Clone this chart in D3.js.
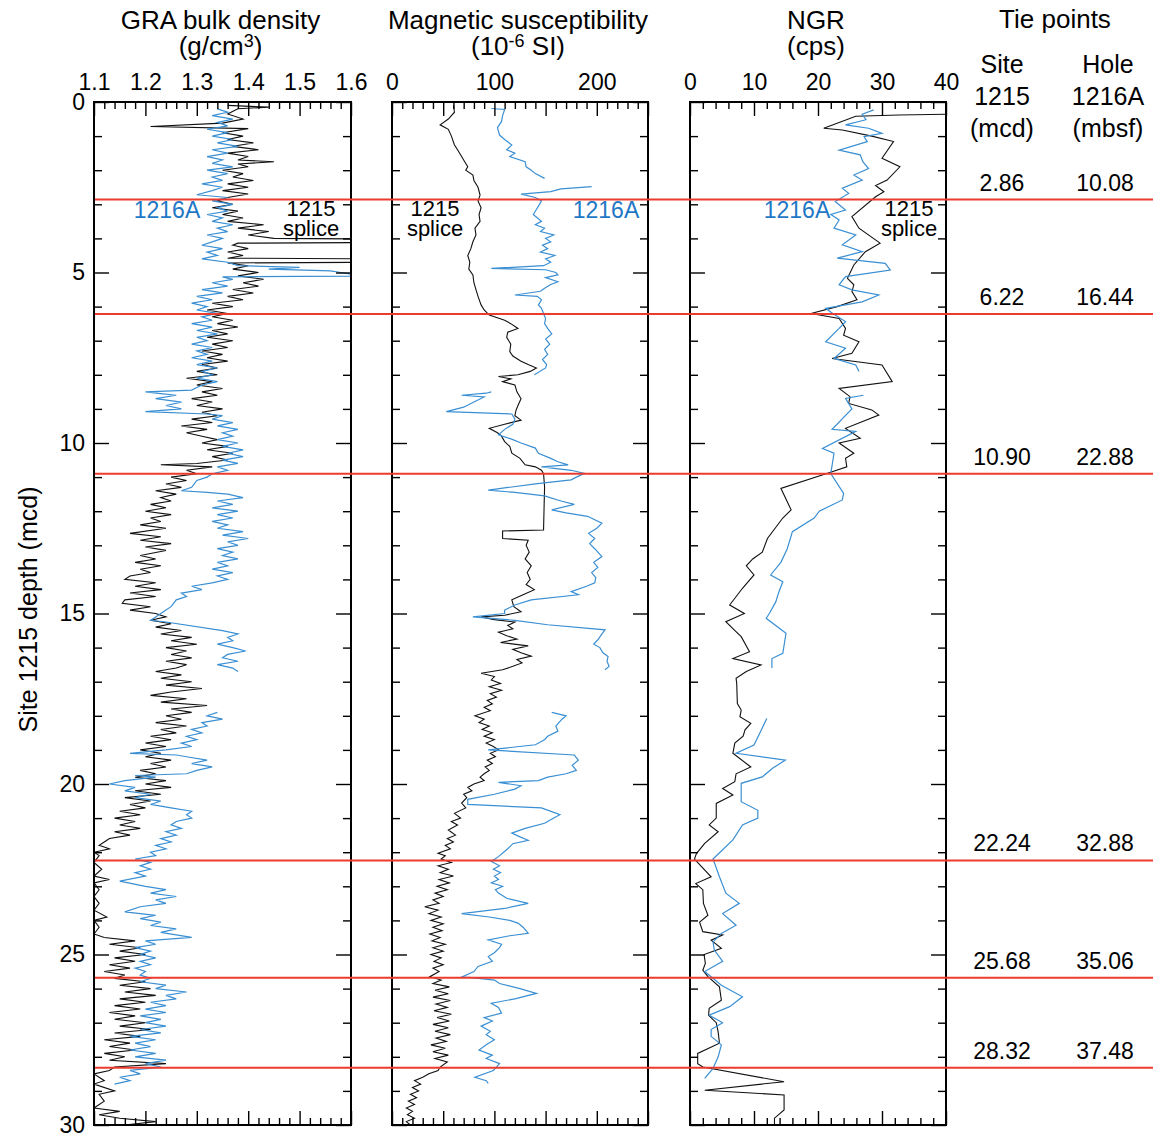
<!DOCTYPE html>
<html>
<head>
<meta charset="utf-8">
<script src="https://cdn.jsdelivr.net/npm/d3@7"></script>
<style>
    body { margin: 0; background: #fff; }
    svg { display: block; font-family: "Liberation Sans", Arial, Helvetica, sans-serif; }
    .tick line { stroke: #000; stroke-width: 1.4; }
</style>
</head>
<body>
<div id="chart"></div>
<script>
// ---- data: [depth (mcd), value], null = gap in the record ----
const graSplice = [[0.1,1.36],[0.15,1.44],[0.2,1.38],[0.35,1.36],[0.5,1.39],[0.62,1.35],[0.72,1.21],[0.78,1.40],[0.9,1.35],[1.0,1.39],[1.1,1.36],[1.2,1.41],[1.3,1.37],[1.4,1.42],[1.5,1.36],[1.6,1.40],[1.7,1.38],[1.75,1.45],[1.82,1.38],[1.9,1.40],[2.0,1.35],[2.1,1.39],[2.2,1.37],[2.3,1.41],[2.4,1.36],[2.5,1.40],[2.6,1.35],[2.7,1.40],[2.8,1.36],[2.9,1.34],[3.0,1.37],[3.1,1.33],[3.2,1.38],[3.3,1.35],[3.4,1.39],[3.5,1.36],[3.6,1.43],[3.7,1.38],[3.8,1.44],[3.9,1.40],[4.0,1.45],[4.02,1.65],[4.12,1.65],[4.14,1.38],[4.2,1.37],[4.3,1.40],[4.4,1.36],[4.5,1.39],[4.58,1.36],[4.6,1.65],[4.7,1.65],[4.72,1.36],[4.8,1.40],[4.9,1.37],[5.0,1.42],[5.1,1.38],[5.2,1.43],[5.3,1.39],[5.4,1.42],[5.5,1.37],[5.6,1.41],[5.7,1.36],[5.8,1.39],[5.9,1.33],[6.0,1.37],[6.1,1.32],[6.2,1.36],[6.3,1.33],[6.4,1.37],[6.5,1.34],[6.6,1.38],[6.7,1.33],[6.8,1.36],[6.9,1.32],[7.0,1.37],[7.1,1.33],[7.2,1.36],[7.3,1.31],[7.4,1.35],[7.5,1.32],[7.6,1.36],[7.7,1.31],[7.8,1.34],[7.9,1.30],[8.0,1.34],[8.1,1.28],[8.2,1.33],[8.3,1.30],[8.4,1.35],[8.5,1.31],[8.6,1.34],[8.7,1.29],[8.8,1.33],[8.9,1.30],[9.0,1.35],[9.1,1.31],[9.2,1.34],[9.3,1.29],[9.4,1.33],[9.5,1.27],[9.6,1.32],[9.7,1.28],[9.8,1.31],[9.9,1.34],[10.0,1.31],[10.1,1.36],[10.2,1.32],[10.3,1.37],[10.4,1.33],[10.5,1.36],[10.6,1.30],[10.64,1.23],[10.7,1.33],[10.8,1.28],[10.9,1.30],[11.0,1.25],[11.1,1.28],[11.2,1.24],[11.3,1.27],[11.4,1.22],[11.5,1.26],[11.6,1.23],[11.7,1.25],[11.8,1.21],[11.9,1.24],[12.0,1.20],[12.1,1.25],[12.2,1.21],[12.3,1.23],[12.4,1.19],[12.5,1.24],[12.65,1.17],[12.75,1.23],[12.85,1.19],[12.95,1.25],[13.05,1.20],[13.15,1.24],[13.3,1.19],[13.4,1.22],[13.5,1.18],[13.6,1.23],[13.7,1.19],[13.8,1.21],[13.9,1.17],[14.0,1.16],[14.1,1.22],[14.2,1.18],[14.3,1.23],[14.4,1.17],[14.5,1.22],[14.6,1.16],[14.7,1.155],[14.8,1.21],[14.9,1.17],[15.0,1.22],[15.1,1.24],[15.2,1.21],[15.3,1.25],[15.4,1.22],[15.5,1.27],[15.6,1.23],[15.7,1.29],[15.8,1.25],[15.9,1.30],[16.0,1.24],[16.1,1.28],[16.2,1.25],[16.3,1.29],[16.4,1.24],[16.5,1.28],[16.6,1.26],[16.7,1.22],[16.8,1.27],[16.9,1.23],[17.0,1.29],[17.1,1.24],[17.2,1.31],[17.3,1.25],[17.4,1.21],[17.5,1.28],[17.6,1.23],[17.7,1.32],[17.8,1.25],[17.9,1.29],[18.0,1.24],[18.1,1.27],[18.2,1.22],[18.3,1.28],[18.4,1.23],[18.5,1.26],[18.6,1.21],[18.7,1.25],[18.8,1.20],[18.9,1.24],[19.0,1.19],[19.1,1.23],[19.2,1.20],[19.3,1.25],[19.4,1.21],[19.5,1.24],[19.6,1.19],[19.7,1.22],[19.8,1.18],[19.9,1.24],[20.0,1.20],[20.1,1.25],[20.2,1.18],[20.3,1.23],[20.4,1.16],[20.5,1.21],[20.6,1.17],[20.7,1.20],[20.8,1.15],[20.9,1.19],[21.0,1.14],[21.1,1.18],[21.2,1.15],[21.3,1.19],[21.4,1.14],[21.5,1.17],[21.6,1.13],[21.7,1.12],[21.8,1.11],[21.9,1.13],[22.0,1.10],[22.1,1.11],[22.3,1.10],[22.5,1.115],[22.7,1.10],[22.8,1.13],[22.9,1.10],[23.1,1.11],[23.3,1.10],[23.5,1.11],[23.7,1.10],[23.9,1.125],[24.0,1.10],[24.2,1.11],[24.4,1.10],[24.5,1.12],[24.6,1.18],[24.7,1.13],[24.8,1.19],[24.9,1.15],[25.0,1.20],[25.1,1.14],[25.2,1.18],[25.3,1.13],[25.4,1.17],[25.5,1.12],[25.6,1.16],[25.7,1.14],[25.8,1.20],[25.9,1.15],[26.0,1.21],[26.1,1.16],[26.2,1.22],[26.3,1.15],[26.4,1.20],[26.5,1.14],[26.6,1.19],[26.7,1.13],[26.8,1.18],[26.9,1.14],[27.0,1.20],[27.1,1.15],[27.2,1.21],[27.3,1.14],[27.4,1.19],[27.5,1.12],[27.6,1.17],[27.7,1.13],[27.8,1.18],[27.9,1.12],[28.0,1.16],[28.1,1.13],[28.2,1.24],[28.3,1.14],[28.4,1.13],[28.5,1.10],[28.7,1.12],[28.8,1.10],[29.0,1.14],[29.1,1.11],[29.3,1.12],[29.5,1.10],[29.6,1.15],[29.7,1.11],[29.8,1.15],[29.9,1.22],[30.0,1.16]];

const graHole = [[0.2,1.34],[0.3,1.36],[0.4,1.33],[0.5,1.37],[0.6,1.34],[0.7,1.36],[0.8,1.32],[0.9,1.36],[1.0,1.33],[1.1,1.37],[1.2,1.34],[1.3,1.38],[1.4,1.33],[1.5,1.36],[1.6,1.32],[1.7,1.35],[1.8,1.33],[1.9,1.37],[2.0,1.32],[2.1,1.36],[2.2,1.33],[2.3,1.35],[2.4,1.31],[2.5,1.35],[2.6,1.33],[2.72,1.30],[2.8,1.36],[2.9,1.33],[3.0,1.37],[3.1,1.34],[3.2,1.36],[3.3,1.32],[3.4,1.35],[3.5,1.33],[3.6,1.37],[3.7,1.34],[3.8,1.36],[3.9,1.32],[4.0,1.35],[4.1,1.33],[4.2,1.31],[4.3,1.35],[4.4,1.32],[4.5,1.34],[4.6,1.31],[4.7,1.36],[4.8,1.38],[4.85,1.50],[4.9,1.44],[4.95,1.56],[5.0,1.58],[5.05,1.60],[5.1,1.65],[5.13,1.35],[5.2,1.37],[5.3,1.33],[5.4,1.36],[5.5,1.31],[5.6,1.35],[5.7,1.30],[5.8,1.33],[5.9,1.29],[6.0,1.32],[6.1,1.30],[6.2,1.34],[6.3,1.31],[6.4,1.33],[6.5,1.29],[6.6,1.33],[6.7,1.30],[6.8,1.34],[6.9,1.30],[7.0,1.32],[7.1,1.29],[7.2,1.33],[7.3,1.30],[7.4,1.32],[7.5,1.29],[7.6,1.33],[7.7,1.30],[7.8,1.34],[7.9,1.31],[8.0,1.33],[8.1,1.30],[8.2,1.34],[8.3,1.31],[8.45,1.29],[8.5,1.20],[8.55,1.23],[8.6,1.26],[8.7,1.22],[8.8,1.27],[8.9,1.24],[9.0,1.27],[9.08,1.20],[9.15,1.32],[9.2,1.35],[9.3,1.33],[9.4,1.37],[9.5,1.34],[9.6,1.38],[9.7,1.35],[9.8,1.37],[9.9,1.34],[10.0,1.38],[10.1,1.35],[10.2,1.39],[10.3,1.36],[10.4,1.39],[10.5,1.35],[10.6,1.38],[10.7,1.34],[10.8,1.36],[10.9,1.33],[11.0,1.32],[11.1,1.30],[11.3,1.29],[11.4,1.27],[11.45,1.32],[11.5,1.36],[11.6,1.39],[11.7,1.34],[11.8,1.37],[11.9,1.33],[12.0,1.38],[12.1,1.34],[12.2,1.37],[12.3,1.33],[12.4,1.36],[12.5,1.34],[12.6,1.39],[12.7,1.35],[12.8,1.40],[12.9,1.36],[13.0,1.38],[13.1,1.34],[13.2,1.37],[13.3,1.35],[13.4,1.38],[13.5,1.34],[13.6,1.36],[13.7,1.33],[13.8,1.37],[13.9,1.34],[14.0,1.36],[14.1,1.33],[14.2,1.29],[14.3,1.31],[14.4,1.27],[14.5,1.28],[14.6,1.26],[14.8,1.25],[14.9,1.24],[15.0,1.23],[15.1,1.22],[15.2,1.21],[15.25,1.24],[15.5,1.35],[15.6,1.38],[15.7,1.36],[15.8,1.37],[15.9,1.34],[16.0,1.37],[16.1,1.395],[16.2,1.36],[16.3,1.35],[16.4,1.38],[16.5,1.34],[16.6,1.37],[16.7,1.38],null,[17.9,1.34],[18.0,1.32],[18.1,1.35],[18.2,1.31],[18.3,1.32],[18.4,1.29],[18.5,1.31],[18.6,1.28],[18.7,1.30],[18.8,1.27],[18.9,1.29],[19.0,1.24],[19.1,1.17],[19.15,1.26],[19.2,1.28],[19.3,1.32],[19.4,1.29],[19.5,1.33],[19.6,1.30],[19.7,1.28],[19.75,1.18],[19.8,1.22],[19.9,1.16],[20.0,1.13],[20.1,1.18],[20.2,1.16],[20.3,1.21],[20.4,1.18],[20.5,1.23],[20.6,1.21],[20.7,1.25],[20.8,1.29],[20.9,1.28],[21.0,1.29],[21.1,1.26],[21.2,1.25],[21.3,1.27],[21.4,1.24],[21.5,1.26],[21.6,1.23],[21.7,1.25],[21.8,1.22],[21.9,1.24],[22.0,1.21],[22.1,1.22],[22.2,1.18],[22.3,1.21],[22.4,1.19],[22.5,1.21],[22.6,1.18],[22.7,1.20],[22.85,1.15],[23.0,1.20],[23.1,1.24],[23.2,1.21],[23.3,1.26],[23.4,1.22],[23.5,1.24],[23.6,1.19],[23.75,1.16],[23.85,1.22],[23.95,1.19],[24.05,1.23],[24.15,1.21],[24.25,1.26],[24.35,1.23],[24.5,1.29],[24.6,1.20],[24.7,1.22],[24.8,1.18],[24.9,1.21],[25.0,1.19],[25.1,1.22],[25.2,1.19],[25.3,1.21],[25.4,1.18],[25.5,1.20],[25.6,1.19],[25.7,1.21],[25.8,1.19],[25.9,1.24],[26.0,1.22],[26.1,1.28],[26.2,1.24],[26.3,1.26],[26.4,1.21],[26.5,1.24],[26.6,1.20],[26.7,1.24],[26.8,1.19],[26.9,1.23],[27.0,1.20],[27.1,1.24],[27.2,1.19],[27.3,1.23],[27.4,1.17],[27.5,1.22],[27.6,1.18],[27.7,1.21],[27.8,1.17],[27.9,1.22],[28.0,1.18],[28.1,1.24],[28.2,1.20],[28.3,1.23],[28.4,1.17],[28.5,1.19],[28.6,1.15],[28.7,1.17],[28.8,1.14]];

const msSplice = [[0.1,60],[0.3,61],[0.5,55],[0.67,47],[0.8,55],[1.0,58],[1.26,61],[1.4,64],[1.6,68],[1.75,71],[1.9,74],[2.0,72],[2.14,79],[2.3,80],[2.5,84],[2.73,86],[2.9,84],[3.1,87],[3.3,85],[3.5,86],[3.7,81],[3.9,82],[4.1,79],[4.3,77],[4.5,74],[4.7,76],[4.9,75],[5.07,79],[5.3,80],[5.5,82],[5.7,84],[5.95,87],[6.1,90],[6.25,95],[6.4,110],[6.5,116],[6.64,123],[6.75,113],[6.9,112],[7.1,116],[7.32,115],[7.45,118],[7.6,126],[7.7,133],[7.8,141],[7.9,135],[8.0,123],[8.05,104],[8.12,116],[8.2,108],[8.3,120],[8.5,122],[8.7,126],[8.9,123],[9.05,121],[9.2,120],[9.33,126],[9.45,110],[9.57,95],[9.7,103],[9.8,107],[9.96,110],[10.1,115],[10.3,117],[10.45,125],[10.64,130],[10.7,140],[10.8,146],[10.9,148],[11.28,149],[12.55,148],[12.58,108],[12.8,108],[12.85,133],[13.0,131],[13.2,134],[13.4,130],[13.6,136],[13.8,132],[14.0,135],[14.15,131],[14.3,139],[14.45,128],[14.6,117],[14.8,119],[14.95,126],[15.05,110],[15.1,87],[15.18,100],[15.25,120],[15.35,113],[15.45,118],[15.55,104],[15.65,112],[15.75,122],[15.85,106],[15.95,133],[16.05,118],[16.15,126],[16.25,136],[16.35,122],[16.45,127],[16.55,118],[16.65,108],[16.75,87],[16.85,100],[16.95,97],[17.05,106],[17.15,95],[17.25,107],[17.35,96],[17.45,102],[17.55,93],[17.65,98],[17.75,90],[17.85,96],[18.0,81],[18.1,90],[18.2,85],[18.3,95],[18.4,88],[18.5,98],[18.6,90],[18.7,100],[18.8,92],[18.9,99],[19.0,104],[19.1,96],[19.2,101],[19.3,93],[19.4,98],[19.5,91],[19.6,95],[19.7,90],[19.8,86],[19.9,90],[20.0,80],[20.1,74],[20.2,78],[20.3,70],[20.4,73],[20.56,68],[20.7,72],[20.86,61],[21.0,67],[21.1,58],[21.2,64],[21.35,55],[21.5,62],[21.6,54],[21.7,60],[21.8,52],[21.9,57],[22.03,45],[22.1,52],[22.2,48],[22.3,58],[22.4,45],[22.5,55],[22.6,47],[22.7,60],[22.8,46],[22.9,56],[23.0,44],[23.1,54],[23.2,42],[23.3,50],[23.4,40],[23.5,46],[23.6,32],[23.7,45],[23.8,36],[23.9,48],[24.0,38],[24.1,50],[24.2,40],[24.3,49],[24.4,37],[24.5,47],[24.6,39],[24.7,52],[24.8,40],[24.9,50],[25.0,38],[25.1,48],[25.2,41],[25.3,50],[25.4,40],[25.5,46],[25.65,37],[25.75,48],[25.85,40],[25.95,56],[26.05,42],[26.15,55],[26.25,40],[26.35,57],[26.45,43],[26.55,54],[26.65,41],[26.75,58],[26.85,44],[26.95,56],[27.05,40],[27.15,55],[27.25,42],[27.35,57],[27.45,43],[27.55,53],[27.65,38],[27.75,52],[27.85,40],[27.95,55],[28.05,42],[28.15,54],[28.3,47],[28.4,45],[28.5,36],[28.6,30],[28.7,22],[28.8,28],[28.9,20],[29.0,26],[29.1,18],[29.2,24],[29.3,16],[29.4,22],[29.5,14],[29.6,20],[29.7,15],[29.8,22],[29.9,14],[30.0,18]];

const msHole = [[0.19,97],[0.22,110],[0.4,108],[0.57,107],[0.75,103],[0.97,105],[1.1,110],[1.26,117],[1.4,112],[1.5,120],[1.6,115],[1.75,130],[1.9,131],[2.0,136],[2.1,140],[2.24,149],null,[2.48,195],[2.55,165],[2.63,155],[2.7,126],[2.8,140],[2.9,146],[3.1,142],[3.3,138],[3.5,146],[3.6,140],[3.7,149],[3.8,145],[3.9,158],[4.0,150],[4.1,155],[4.2,147],[4.3,152],[4.4,145],[4.5,159],[4.6,150],[4.7,155],[4.8,148],[4.88,97],[4.92,150],[5.0,160],[5.07,162],[5.15,150],[5.27,162],[5.35,155],[5.46,149],[5.55,145],[5.66,120],[5.7,142],[5.8,146],[5.95,143],[6.05,146],[6.2,148],[6.35,150],[6.5,149],[6.64,152],[6.8,156],[6.95,150],[7.1,154],[7.25,149],[7.4,152],[7.55,147],[7.7,151],[7.8,150],[8.0,139],null,[8.5,97],[8.54,92],[8.6,68],[8.65,90],[8.8,80],[8.95,70],[9.08,53],[9.15,117],[9.3,120],[9.45,118],[9.6,110],[9.76,104],[9.9,118],[10.0,126],[10.15,140],[10.3,143],[10.45,155],[10.55,162],[10.64,172],[10.7,146],[10.8,175],[10.89,188],[11.0,180],[11.08,175],[11.2,140],[11.38,94],[11.45,120],[11.55,149],[11.7,165],[11.8,178],[11.96,156],[12.05,170],[12.15,191],[12.35,205],[12.5,200],[12.65,192],[12.8,198],[12.95,193],[13.1,198],[13.33,205],[13.5,197],[13.65,201],[13.8,195],[13.95,199],[14.1,198],[14.2,190],[14.36,175],[14.45,182],[14.6,136],[14.75,120],[14.9,110],[15.0,110],[15.1,79],[15.2,120],[15.33,152],[15.48,208],[15.6,205],[15.77,201],[15.9,197],[16.0,203],[16.15,206],[16.26,211],[16.4,210],[16.55,212],[16.65,208],null,[17.9,156],[18.0,170],[18.1,166],[18.3,160],[18.45,162],[18.6,152],[18.7,149],[18.85,140],[19.0,94],[19.15,178],[19.3,182],[19.45,176],[19.6,180],[19.7,170],[19.8,152],[19.9,143],[19.95,104],[20.05,126],[20.15,120],[20.3,100],[20.45,74],[20.6,74],[20.7,146],[20.9,164],[21.0,158],[21.15,149],[21.3,130],[21.44,117],[21.55,125],[21.65,133],[21.75,118],[21.9,113],[22.13,104],[22.27,97],[22.4,105],[22.5,99],[22.6,106],[22.7,100],[22.8,104],[22.9,97],[23.0,108],[23.1,101],[23.2,104],[23.35,112],[23.5,133],[23.65,110],[23.8,68],[23.9,95],[24.0,115],[24.08,123],[24.2,128],[24.38,133],[24.45,115],[24.57,94],[24.7,107],[24.8,105],[24.95,100],[25.06,94],[25.2,98],[25.35,84],[25.5,80],[25.65,69],[25.75,100],[25.85,105],[26.0,125],[26.14,141],[26.3,120],[26.43,97],[26.55,104],[26.72,107],[26.85,90],[26.95,98],[27.1,87],[27.25,96],[27.35,92],[27.5,100],[27.65,92],[27.8,85],[27.95,98],[28.05,92],[28.2,105],[28.4,99],[28.6,81],[28.7,92],[28.78,94]];

const ngrSplice = [[0.36,40],[0.38,32.6],[0.42,25.9],[0.77,20.9],[0.82,23.8],[1.0,28.4],[1.16,31.8],[1.65,30],[1.9,32.8],[2.29,30.8],[2.45,29],[2.63,30.3],[2.78,29],[3.36,25.3],[3.7,26.4],[4.14,29.7],[4.39,27.4],[4.78,25.6],[5.17,24.6],[5.36,25.6],[5.56,25.3],[5.8,26.1],[6.0,23],[6.2,18.9],[6.35,23.3],[6.64,24.3],[6.84,24],[7.03,26.4],[7.37,25.3],[7.52,22.2],[7.71,30],[8.2,31.6],[8.4,23.3],[8.64,25],[8.84,24.8],[9.03,28.4],[9.18,29.5],[9.57,24.3],[9.86,26.6],[10.0,23.3],[10.3,25.6],[10.45,24.3],[10.7,24.5],[10.89,21.5],[11.33,14.2],[11.96,15.8],[12.2,14.5],[12.8,12.1],[13.2,11.3],[13.4,9.8],[13.6,8.8],[13.87,10],[14.26,8.2],[14.75,6.2],[15.0,8.5],[15.24,5.6],[15.48,6.9],[15.68,8],[16.12,9.3],[16.32,6.7],[16.51,11.1],[16.7,8.8],[16.9,7.2],[17.05,7.3],[17.64,7.4],[17.83,8],[18.03,7.8],[18.22,9.5],[18.41,8.6],[18.6,8.3],[18.8,7],[19.1,6.7],[19.5,9.5],[19.7,7.2],[19.93,7],[20.13,5.1],[20.32,6.7],[20.57,4.1],[21.0,4.1],[21.2,3],[21.4,4.4],[21.74,2.3],[22.04,1],[22.2,0.7],[22.72,3.3],[22.92,0.9],[23.1,2],[23.5,2.1],[23.85,2.8],[24.05,1.5],[24.33,2],[24.43,5.1],[24.58,3.3],[24.82,4.9],[25.0,2.2],[25.26,2.4],[25.46,2],[25.65,2.8],[25.95,4.6],[26.34,4.9],[26.58,3],[26.78,2.9],[27.0,4.1],[27.27,4.4],[27.6,4.6],[27.9,1.2],[28.2,1.2],[28.3,2],[28.73,14.7],[28.98,2.3],[29.12,14.7],[29.56,14.7],[29.8,13.2],[30.0,13.2]];

const ngrHole = [[0.23,28.7],[0.36,26.9],[0.52,27.5],[0.67,24.3],[0.77,27.9],[0.92,30],[1.02,27.2],[1.16,27.7],[1.41,23.3],[1.55,26.6],[1.75,27],[1.95,27.9],[2.14,25.6],[2.29,26.9],[2.53,23.8],[2.68,24.8],[2.92,22.7],[3.17,24.3],[3.3,22],[3.46,23.3],[3.7,22.5],[3.9,25.9],[4.19,23.8],[4.39,26.9],[4.58,23],[4.73,30.5],[4.93,31.3],[5.12,24.3],[5.36,23.3],[5.51,25.3],[5.66,29.5],[5.86,26.9],[6.05,21.2],[6.2,22.3],[6.44,24.3],[6.64,23.3],[7.03,21.2],[7.22,24.3],[7.52,22.5],[7.71,25.9],[7.9,26.4],null,[8.6,27.1],[8.69,24.3],[9.0,25.3],[9.6,22.2],[9.66,25.9],[10.16,20.7],[10.3,22.5],[10.9,22],[11.48,24],[11.67,23.8],[12.0,20.2],[12.2,19.4],[12.6,16],[13.1,15.2],[13.5,14.2],[13.87,12.6],[14.07,14.5],[14.36,13.9],[14.66,13.4],[15.0,12.4],[15.14,11.9],[15.58,15],[16.17,14.5],[16.32,12.8],[16.6,12.8],null,[18.08,12],[18.86,10],[19.1,7.2],[19.3,14.9],[19.54,12.9],[19.79,11.3],[19.98,8],[20.52,8],[20.77,10.6],[21.0,10.6],[21.2,8.2],[21.64,6.7],[22.2,3.6],[22.72,4.6],[23.2,5.6],[23.5,7.7],[23.8,5.1],[24.14,7.2],[24.38,4.9],[24.63,3.6],[24.87,3.8],[25.2,5.1],[25.5,2.3],[25.9,4.9],[26.24,8.2],[26.53,6.2],[26.78,3],[27.0,5.1],[27.2,3.3],[27.4,3.3],[27.65,4.9],[28.0,4.4],[28.34,3.6],[28.63,2.3]];

// tie points
const tieSite = [2.86, 6.22, 10.90, 22.24, 25.68, 28.32];
const tieHole = ["10.08", "16.44", "22.88", "32.88", "35.06", "37.48"];

// tick labels
const graTicks = [1.1, 1.2, 1.3, 1.4, 1.5, 1.6];
const msTicks = [0, 100, 200];
const ngrTicks = [0, 10, 20, 30, 40];
const depthTicks = [0, 5, 10, 15, 20, 25, 30];

// ---- layout ----
const W = 1153, H = 1135;
const yTop = 102, yBottom = 1125;
const blue = '#3a8fd3', blueText = '#1f78c5', red = '#ec3b2c';
const font = '"Liberation Sans", Arial, Helvetica, sans-serif';

const svg = d3.select('#chart').append('svg')
    .attr('width', W)
    .attr('height', H);

const y = d3.scaleLinear().domain([0, 30]).range([yTop, yBottom]);

const panels = [
    { id: 'gra', x0: 94, x1: 351, domain: [1.1, 1.6], step: 0.02, majorEvery: 5, labels: graTicks,
      fmt: d3.format('.1f'), splice: graSplice, hole: graHole,
      title: ['GRA bulk density', '(g/cm', '3', ')'],
      holeLabel: 167, spliceLabel: 311 },
    { id: 'ms', x0: 392, x1: 648, domain: [0, 250], step: 10, majorEvery: 5, labels: msTicks,
      fmt: d3.format('d'), splice: msSplice, hole: msHole,
      title: ['Magnetic susceptibility', '(10', '-6', ' SI)'],
      holeLabel: 606, spliceLabel: 435 },
    { id: 'ngr', x0: 690, x1: 946, domain: [0, 40], step: 2, majorEvery: 5, labels: ngrTicks,
      fmt: d3.format('d'), splice: ngrSplice, hole: ngrHole,
      title: ['NGR', '(cps', '', ')'],
      holeLabel: 797, spliceLabel: 909 }
];

const line = (x) => d3.line()
    .defined(d => d !== null)
    .x(d => x(d ? d[1] : 0))
    .y(d => y(d ? d[0] : 0));

panels.forEach(p => {
    const x = d3.scaleLinear().domain(p.domain).range([p.x0, p.x1]);
    const n = Math.round((p.domain[1] - p.domain[0]) / p.step);
    const all = d3.range(n + 1).map(i => p.domain[0] + i * p.step);
    const majors = all.filter((d, i) => i % p.majorEvery === 0);
    const minors = all.filter((d, i) => i % p.majorEvery !== 0);

    const g = svg.append('g').attr('class', p.id);

    // clip for data
    svg.append('clipPath').attr('id', 'clip-' + p.id)
        .append('rect')
        .attr('x', p.x0).attr('y', yTop)
        .attr('width', p.x1 - p.x0).attr('height', yBottom - yTop);

    const data = g.append('g').attr('clip-path', `url(#clip-${p.id})`);
    data.append('path')
        .datum(p.splice)
        .attr('d', line(x))
        .attr('fill', 'none')
        .attr('stroke', '#111')
        .attr('stroke-width', 1.1);
    data.append('path')
        .datum(p.hole)
        .attr('d', line(x))
        .attr('fill', 'none')
        .attr('stroke', blue)
        .attr('stroke-width', 1.2);

    // x ticks, top and bottom, pointing inward
    [[d3.axisTop, yTop], [d3.axisBottom, yBottom]].forEach(([axisFn, yPos]) => {
        g.append('g')
            .attr('transform', `translate(0,${yPos})`)
            .call(axisFn(x).tickValues(majors).tickSize(-14).tickFormat(''))
            .call(a => a.select('.domain').remove());
        g.append('g')
            .attr('transform', `translate(0,${yPos})`)
            .call(axisFn(x).tickValues(minors).tickSize(-7).tickFormat(''))
            .call(a => a.select('.domain').remove());
    });

    // tick labels on top
    g.append('g')
        .attr('transform', `translate(0,${yTop})`)
        .call(d3.axisTop(x).tickValues(p.labels).tickSize(0).tickPadding(12).tickFormat(p.fmt))
        .call(a => a.select('.domain').remove())
        .call(a => a.selectAll('text')
            .attr('font-family', font)
            .attr('font-size', 23)
            .attr('fill', '#000'));

    // depth ticks, both sides, inward
    const depthAll = d3.range(0, 31);
    const dMajor = depthAll.filter(d => d % 5 === 0);
    const dMinor = depthAll.filter(d => d % 5 !== 0);
    [[d3.axisLeft, p.x0], [d3.axisRight, p.x1]].forEach(([axisFn, xPos]) => {
        g.append('g')
            .attr('transform', `translate(${xPos},0)`)
            .call(axisFn(y).tickValues(dMajor).tickSize(-15).tickFormat(''))
            .call(a => a.select('.domain').remove());
        g.append('g')
            .attr('transform', `translate(${xPos},0)`)
            .call(axisFn(y).tickValues(dMinor).tickSize(-8).tickFormat(''))
            .call(a => a.select('.domain').remove());
    });

    // frame
    g.append('rect')
        .attr('x', p.x0).attr('y', yTop)
        .attr('width', p.x1 - p.x0).attr('height', yBottom - yTop)
        .attr('fill', 'none')
        .attr('stroke', '#000')
        .attr('stroke-width', 2);

    // titles
    const cx = (p.x0 + p.x1) / 2 - 2;
    g.append('text')
        .attr('x', cx).attr('y', 29)
        .attr('text-anchor', 'middle')
        .attr('font-family', font).attr('font-size', 26)
        .text(p.title[0]);
    const sub = g.append('text')
        .attr('x', cx).attr('y', 55)
        .attr('text-anchor', 'middle')
        .attr('font-family', font).attr('font-size', 26);
    sub.append('tspan').text(p.title[1]);
    if (p.title[2]) {
        sub.append('tspan').attr('font-size', 18).attr('dy', -8).text(p.title[2]);
        sub.append('tspan').attr('dy', 8).text(p.title[3]);
    } else {
        sub.append('tspan').text(p.title[3]);
    }

    // series labels
    g.append('text')
        .attr('x', p.holeLabel).attr('y', 218)
        .attr('text-anchor', 'middle')
        .attr('font-family', font).attr('font-size', 23)
        .attr('fill', blueText)
        .text('1216A');
    ['1215', 'splice'].forEach((t, i) => {
        g.append('text')
            .attr('x', p.spliceLabel).attr('y', 216 + i * 20)
            .attr('text-anchor', 'middle')
            .attr('font-family', font).attr('font-size', 22)
            .attr('fill', '#000')
            .text(t);
    });
});

// depth axis labels
svg.append('g')
    .attr('transform', `translate(${panels[0].x0},0)`)
    .call(d3.axisLeft(y).tickValues(depthTicks).tickSize(0).tickPadding(9))
    .call(a => a.select('.domain').remove())
    .call(a => a.selectAll('text')
        .attr('font-family', font)
        .attr('font-size', 23)
        .attr('fill', '#000'));

svg.append('text')
    .attr('transform', `translate(37,${(yTop + yBottom) / 2 - 4}) rotate(-90)`)
    .attr('text-anchor', 'middle')
    .attr('font-family', font).attr('font-size', 25)
    .text('Site 1215 depth (mcd)');

// tie point lines
svg.append('g').selectAll('line')
    .data(tieSite)
    .enter().append('line')
    .attr('x1', panels[0].x0 + 1).attr('x2', W)
    .attr('y1', d => y(d)).attr('y2', d => y(d))
    .attr('stroke', red)
    .attr('stroke-width', 2);

// tie point column
const colSite = 1002, colHole = 1108;
svg.append('text')
    .attr('x', 1055).attr('y', 28)
    .attr('text-anchor', 'middle')
    .attr('font-family', font).attr('font-size', 26)
    .text('Tie points');
[['Site', '1215', '(mcd)', colSite], ['Hole', '1216A', '(mbsf)', colHole]].forEach(h => {
    h.slice(0, 3).forEach((t, i) => {
        svg.append('text')
            .attr('x', h[3]).attr('y', 73 + i * 32)
            .attr('text-anchor', 'middle')
            .attr('font-family', font).attr('font-size', 25)
            .text(t);
    });
});

const tieText = svg.append('g')
    .attr('font-family', font)
    .attr('font-size', 23)
    .attr('text-anchor', 'middle');
tieText.selectAll('.site')
    .data(tieSite)
    .enter().append('text')
    .attr('class', 'site')
    .attr('x', colSite)
    .attr('y', d => y(d) - 9)
    .text(d => d.toFixed(2));
tieText.selectAll('.hole')
    .data(tieHole)
    .enter().append('text')
    .attr('class', 'hole')
    .attr('x', colHole - 3)
    .attr('y', (d, i) => y(tieSite[i]) - 9)
    .text(d => d);
</script>
</body>
</html>
